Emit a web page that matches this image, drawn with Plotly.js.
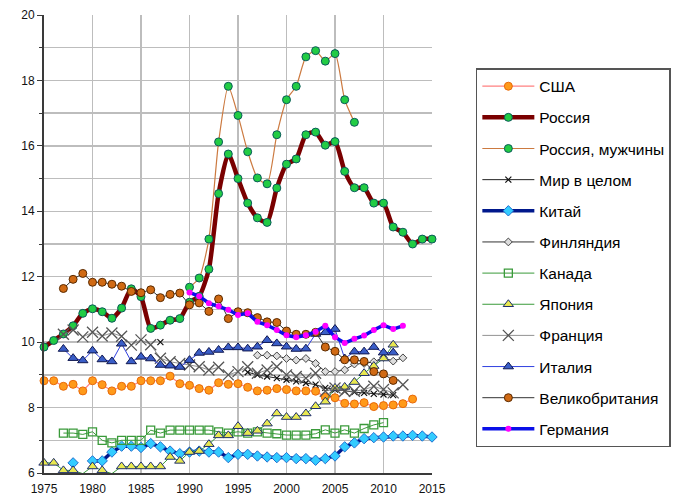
<!DOCTYPE html>
<html>
<head>
<meta charset="utf-8">
<script src="https://cdn.plot.ly/plotly-3.0.1.min.js"></script>
<style>html,body{margin:0;padding:0;background:#fff;}#chart{width:683px;height:497px;}</style>
</head>
<body>
<div id="chart"></div>
<script>
const years = [1975,1976,1977,1978,1979,1980,1981,1982,1983,1984,1985,1986,1987,1988,1989,1990,1991,1992,1993,1994,1995,1996,1997,1998,1999,2000,2001,2002,2003,2004,2005,2006,2007,2008,2009,2010,2011,2012,2013,2014,2015];

const usa = [8.82,8.82,8.65,8.71,8.51,8.82,8.70,8.51,8.65,8.65,8.82,8.82,8.82,8.96,8.73,8.68,8.58,8.53,8.76,8.71,8.73,8.62,8.51,8.53,8.58,8.55,8.51,8.51,8.50,8.32,8.30,8.13,8.11,8.15,8.03,8.06,8.08,8.12,8.26,null,null];
const russia = [9.85,10.05,10.25,10.50,10.88,11.02,10.93,10.73,11.04,11.63,11.39,10.42,10.52,10.67,10.72,11.22,11.40,12.23,14.54,15.75,15.00,14.25,13.80,13.66,14.71,15.44,15.60,16.34,16.42,16.02,16.13,15.22,14.72,14.72,14.25,14.25,13.52,13.36,13.00,13.15,13.15];
const russiaMen = [null,null,null,null,null,null,null,null,null,null,null,null,null,null,null,11.68,11.96,13.15,16.12,17.82,16.93,15.82,15.02,14.84,16.34,17.41,17.82,18.72,18.91,18.59,18.82,17.41,16.72,null,null,null,null,null,null,null,null];
const world = [null,null,null,null,null,null,null,null,null,null,null,null,10.00,null,null,null,null,null,null,null,null,9.08,9.00,8.95,8.90,8.85,8.80,8.75,8.70,8.60,8.55,8.50,8.47,8.45,8.42,8.40,8.38,null,null,null,null];
const china = [null,null,null,6.31,null,6.37,6.37,6.64,6.82,6.82,6.78,6.90,6.80,6.67,6.59,6.64,6.67,6.64,6.64,6.47,6.57,6.57,6.52,6.49,6.47,6.47,6.44,6.44,6.39,6.44,6.52,6.80,6.92,7.05,7.08,7.10,7.13,7.13,7.15,7.13,7.10];
const finland = [null,null,null,null,null,null,null,null,null,null,null,null,null,null,null,null,null,null,null,null,null,null,9.60,9.60,9.58,9.50,9.45,9.50,9.35,9.10,9.10,9.15,9.33,9.35,9.40,9.53,9.42,9.52,null,null,null];
const canada = [null,null,7.22,7.22,7.18,7.26,7.00,6.92,7.00,7.00,7.00,7.31,7.22,7.31,7.31,7.31,7.31,7.31,7.26,7.22,7.26,7.22,7.26,7.22,7.20,7.16,7.16,7.16,7.20,7.32,7.22,7.32,7.22,7.36,7.47,7.54,null,null,null,null,null];
const japan = [6.31,6.31,6.08,6.08,5.98,6.20,6.08,5.98,6.20,6.20,6.20,6.20,6.20,6.49,6.37,6.64,6.67,6.88,7.15,7.15,7.43,7.22,7.29,7.51,7.82,7.71,7.71,7.82,8.04,8.18,8.60,8.63,8.78,9.05,9.27,9.50,9.92,null,null,null,null];
const france = [null,null,10.24,10.37,10.16,10.30,10.19,10.28,10.18,9.91,10.07,9.92,9.51,9.40,9.35,9.30,9.25,9.15,9.23,9.00,9.10,9.25,9.05,9.15,9.25,9.00,8.95,8.90,9.05,8.50,8.60,8.50,8.50,8.55,8.65,8.55,8.45,8.70,null,null,null];
const italy = [null,null,9.79,9.51,9.44,9.74,9.47,9.41,9.95,9.41,9.55,9.50,9.30,9.28,9.24,9.45,9.67,9.70,9.76,9.84,9.84,9.80,9.86,10.06,9.96,9.86,9.79,9.80,10.25,10.30,10.40,9.50,9.71,9.71,9.85,9.68,9.68,null,null,null,null];
const uk = [null,null,11.64,11.92,12.10,11.83,11.83,11.77,11.71,11.55,11.51,11.60,11.36,11.46,11.50,11.14,11.20,10.94,11.32,10.72,10.93,10.90,10.75,10.62,10.60,10.34,10.24,10.24,10.30,9.85,9.72,9.46,9.46,9.41,9.10,9.03,8.83,null,null,null,null];
const germany = [null,null,null,null,null,null,null,null,null,null,null,null,null,null,null,11.52,11.40,11.19,11.10,10.99,10.83,10.88,10.62,10.52,10.37,10.21,10.15,10.21,10.32,10.50,10.15,9.97,10.10,10.20,10.37,10.52,10.40,10.50,null,null,null];

const names = ['США','Россия','Россия, мужчины','Мир в целом','Китай','Финляндия','Канада','Япония','Франция','Италия','Великобритания','Германия'];

function tr(name, y, line, marker, extra) {
  return Object.assign({type:'scatter', mode:'lines+markers', x:years, y:y, name:name, legendgroup:name,
    line:line, marker:marker, connectgaps:false, cliponaxis:false}, extra||{});
}

const traces = [
  tr(names[0], usa, {color:'#FF8080', width:1.2}, {symbol:'circle', size:8, color:'#FF9A1A', line:{color:'#E8690A', width:1}}),
  tr(names[1], russia, {color:'#7A0000', width:4.5, shape:'spline', smoothing:0.6}, {symbol:'circle', size:8, color:'#22CC44', line:{color:'#0A5A5A', width:1}}),
  tr(names[2], russiaMen, {color:'#CC7A40', width:1.2, shape:'spline', smoothing:0.6}, {symbol:'circle', size:8, color:'#22CC44', line:{color:'#0A5A5A', width:1}}),
  tr(names[3], world, {color:'#222222', width:1}, {symbol:'x-thin-open', size:6, color:'#111111', line:{color:'#111111', width:1.2}}),
  tr(names[4], china, {color:'#00188C', width:3.5}, {symbol:'diamond', size:8, color:'#33CCFF', line:{color:'#1F6FD0', width:1}}),
  tr(names[5], finland, {color:'#333333', width:1}, {symbol:'diamond', size:6, color:'#DDDDDD', line:{color:'#444444', width:1}}),
  tr(names[6], canada, {color:'#3A9A3A', width:1}, {symbol:'square-open', size:8, color:'#3A9A3A', line:{color:'#3A9A3A', width:1.3}}),
  tr(names[7], japan, {color:'#3A9A3A', width:1}, {symbol:'triangle-up', size:9, color:'#E8E850', line:{color:'#1F2F6F', width:1}}),
  tr(names[8], france, {color:'#777777', width:0.8}, {symbol:'x-thin-open', size:11, color:'#555555', line:{color:'#555555', width:1.3}}),
  tr(names[9], italy, {color:'#3040E0', width:1}, {symbol:'triangle-up', size:9, color:'#3A5EC8', line:{color:'#101850', width:1}}),
  tr(names[10], uk, {color:'#333333', width:1}, {symbol:'circle', size:8, color:'#D06A14', line:{color:'#5A2A00', width:1}}),
  tr(names[11], germany, {color:'#0A10E8', width:3.5}, {symbol:'circle', size:6, color:'#FF00FF', line:{color:'#FF00FF', width:0}})
];

const grid = '#BDBDBD';
const layout = {
  width:683, height:497,
  margin:{l:44, r:251, t:15, b:24, pad:0},
  paper_bgcolor:'#ffffff', plot_bgcolor:'#ffffff',
  font:{family:'Liberation Sans, Arial, sans-serif', size:12, color:'#000'},
  showlegend:true,
  xaxis:{range:[1975,2015], dtick:5, tick0:1975, showgrid:true, gridcolor:grid, gridwidth:1.5,
    zeroline:false, showline:true, linecolor:'#3a3a3a', linewidth:2, ticks:'', ticklabelstandoff:4, tickfont:{size:12, color:'#111'}},
  yaxis:{range:[6,20], dtick:2, tick0:6, showgrid:true, gridcolor:grid, gridwidth:1.5,
    zeroline:false, showline:true, linecolor:'#3a3a3a', linewidth:2, ticks:'outside', ticklen:5, tickcolor:'#3a3a3a',
    tickfont:{size:12, color:'#111'},
    minor:{dtick:1, showgrid:true, gridcolor:grid, gridwidth:1.5, ticks:'outside', ticklen:3, tickcolor:'#3a3a3a'}},
  legend:{x:1.113, xanchor:'left', y:0.884, yanchor:'top', bgcolor:'#ffffff', bordercolor:'#555555', borderwidth:1.5,
    font:{family:'Liberation Sans, Arial, sans-serif', size:15.5, color:'#000'}, traceorder:'grouped', tracegroupgap:8, itemwidth:52}
};

Plotly.newPlot('chart', traces, layout, {displayModeBar:false, staticPlot:true});
</script>
</body>
</html>
